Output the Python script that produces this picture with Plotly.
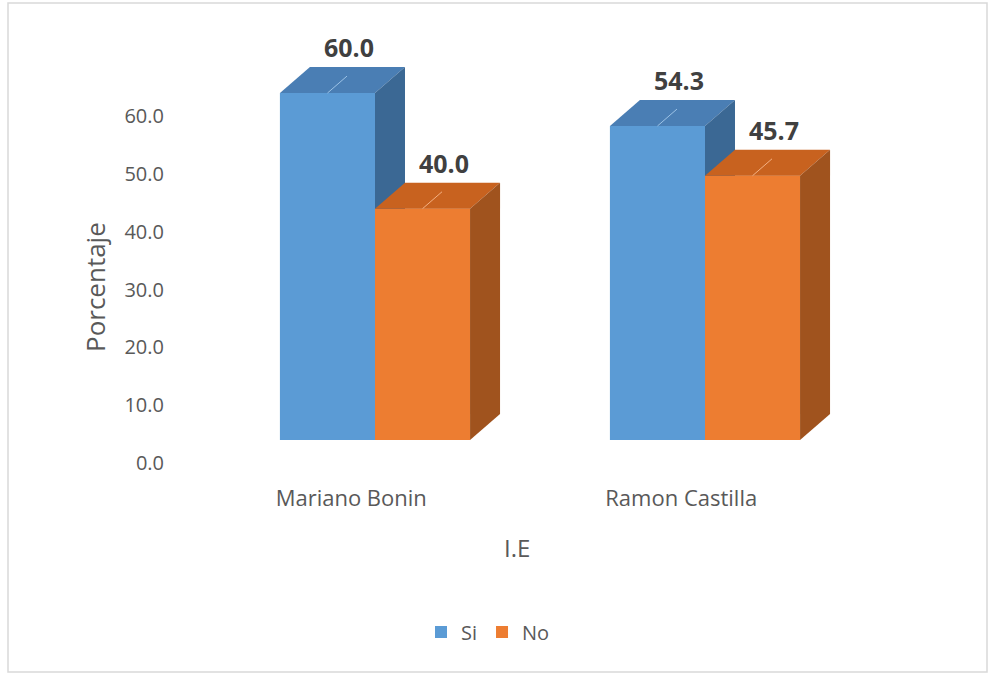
import plotly.graph_objects as go

categories = ["Mariano Bonin", "Ramon Castilla"]
si_values = [60.0, 54.3]
no_values = [40.0, 45.7]
y_ticks = [0, 10, 20, 30, 40, 50, 60]

W, H = 990, 674
ML, MR, MT, MB = 165, 54, 40, 194
PW, PH = W - ML - MR, H - MT - MB
XR = [(ML - 375) / 330, 1.70]
PXU = 5.783  # px per y unit
Y2R = [-(H - MB - 440) / PXU, (440 - MT) / PXU]
Y1R = [-(H - MB - 463) / PXU, (463 - MT) / PXU]

bw = 0.288        # bar width (x units)
dx = 0.0909       # depth offset x
dy = 4.5          # depth offset y (units)

series = [
    dict(name="Si", vals=si_values, off=-bw, front="#5B9BD5", top="#4A7EB4", side="#3B6894", lead="#9DC3E6"),
    dict(name="No", vals=no_values, off=0.0, front="#ED7D31", top="#C8621F", side="#A0531E", lead="#F4B183"),
]

fig = go.Figure()
xs = list(range(len(categories)))

# invisible trace so the tick axis (y) is drawn
fig.add_trace(go.Scatter(x=[xs[0]], y=[0], mode="markers", marker=dict(opacity=0),
                         showlegend=False, hoverinfo="skip", xaxis="x", yaxis="y"))

# legend / base front faces
for s in series:
    fig.add_trace(go.Bar(
        x=xs, y=s["vals"], width=bw, offset=s["off"], name=s["name"],
        marker=dict(color=s["front"], line=dict(width=0)),
        xaxis="x", yaxis="y2", hoverinfo="skip",
    ))

annotations = []
for i in xs:
    for s in series:
        v = s["vals"][i]
        x0 = i + s["off"]
        x1 = x0 + bw
        fig.add_trace(go.Scatter(
            x=[x0, x1, x1, x0, x0], y=[0, 0, v, v, 0], fill="toself",
            fillcolor=s["front"], mode="lines", line=dict(width=0, color=s["front"]),
            showlegend=False, hoverinfo="skip", xaxis="x", yaxis="y2"))
        fig.add_trace(go.Scatter(
            x=[x0, x1, x1 + dx, x0 + dx, x0], y=[v, v, v + dy, v + dy, v], fill="toself",
            fillcolor=s["top"], mode="lines", line=dict(width=0, color=s["top"]),
            showlegend=False, hoverinfo="skip", xaxis="x", yaxis="y2"))
        fig.add_trace(go.Scatter(
            x=[x1, x1 + dx, x1 + dx, x1, x1], y=[0, dy, v + dy, v, 0], fill="toself",
            fillcolor=s["side"], mode="lines", line=dict(width=0, color=s["side"]),
            showlegend=False, hoverinfo="skip", xaxis="x", yaxis="y2"))
        xc = (x0 + x1) / 2
        fig.add_trace(go.Scatter(
            x=[xc, xc + 0.65 * dx], y=[v, v + 0.65 * dy], mode="lines",
            line=dict(width=1, color=s["lead"]), showlegend=False, hoverinfo="skip",
            xaxis="x", yaxis="y2"))
        annotations.append(dict(
            x=xc + 0.72 * dx, y=v + dy, xref="x", yref="y2", text=f"{v:.1f}",
            showarrow=False, yanchor="bottom", yshift=1,
            font=dict(family="Open Sans", size=25, color="#404040", weight="bold")))

annotations.append(dict(x=(95 - ML) / PW, y=1 - (287 - MT) / PH, xref="paper", yref="paper",
                        xanchor="center", yanchor="middle",
                        text="Porcentaje", textangle=-90, showarrow=False,
                        font=dict(family="Open Sans", size=26, color="#595959")))
annotations.append(dict(x=(517 - ML) / PW, y=1 - (547 - MT) / PH,
                        xref="paper", yref="paper", xanchor="center", yanchor="middle",
                        text="I.E", showarrow=False,
                        font=dict(family="Open Sans", size=24, color="#595959")))

fig.update_layout(
    width=W, height=H, margin=dict(l=ML, r=MR, t=MT, b=MB),
    paper_bgcolor="white", plot_bgcolor="white",
    barmode="overlay",
    showlegend=True,
    legend=dict(orientation="h", x=(488 - ML) / PW, xanchor="center",
                y=1 - (632 - MT) / PH, yanchor="middle",
                font=dict(family="Open Sans", size=20, color="#595959"),
                itemwidth=30, traceorder="normal"),
    xaxis=dict(range=XR, showgrid=False, zeroline=False, showline=False,
               tickvals=[x - 0.072 for x in xs], ticktext=categories, ticks="",
               ticklabelstandoff=3,
               tickfont=dict(family="Open Sans", size=22, color="#595959")),
    yaxis=dict(range=Y1R, showgrid=False, zeroline=False, showline=False,
               tickvals=y_ticks, ticktext=[f"{t:.1f}" for t in y_ticks], ticks="",
               tickfont=dict(family="Open Sans", size=20, color="#595959")),
    yaxis2=dict(range=Y2R, overlaying="y", visible=False, showgrid=False, zeroline=False),
    annotations=annotations,
    shapes=[dict(type="rect", xref="paper", yref="paper",
                 x0=(8 - ML) / PW, x1=(987 - ML) / PW,
                 y0=1 - (672 - MT) / PH, y1=1 - (3 - MT) / PH,
                 line=dict(color="#D9D9D9", width=1.5), layer="below")],
)

fig.write_html("out.html")
